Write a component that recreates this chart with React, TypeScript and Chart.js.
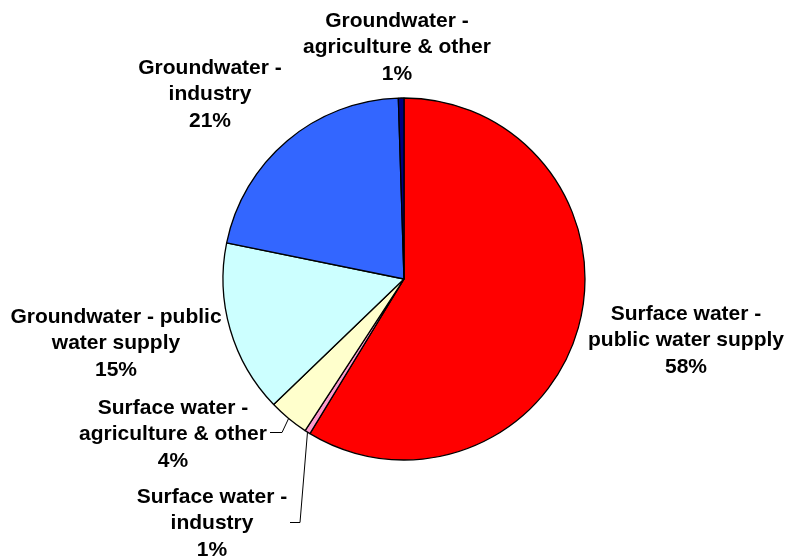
import React, { useEffect, useRef } from "react";
import { Chart, registerables } from "chart.js";

Chart.register(...registerables);

const categories = [
  "Surface water - public water supply",
  "Surface water - industry",
  "Surface water - agriculture & other",
  "Groundwater - public water supply",
  "Groundwater - industry",
  "Groundwater - agriculture & other",
];
const categoryLines = [
  ["Surface water -", "public water supply"],
  ["Surface water -", "industry"],
  ["Surface water -", "agriculture & other"],
  ["Groundwater - public", "water supply"],
  ["Groundwater -", "industry"],
  ["Groundwater -", "agriculture & other"],
];
const shares = [58.7, 0.5, 3.6, 15.4, 21.3, 0.5];
const percentLabels = ["58%", "1%", "4%", "15%", "21%", "1%"];
const sliceColors = ["#FF0000", "#FF99CC", "#FFFFCC", "#CCFFFF", "#3366FF", "#000080"];

// label layout: first-line center offset from pie center
const labelOffsets = [
  [282, 34],
  [-192, 217],
  [-231, 128],
  [-288, 37],
  [-194, -212],
  [-7, -259],
];
// leader lines: [elbow, end] offsets from pie center, or null
const leaders: (number[][] | null)[] = [
  null,
  [[-104, 243], [-114, 243]],
  [[-122, 153], [-134, 153]],
  null,
  null,
  null,
];

const labelPlugin = {
  id: "pieLabels",
  afterDraw(chart: any) {
    const ctx = chart.ctx;
    const meta = chart.getDatasetMeta(0);
    ctx.save();
    ctx.font = "bold 21px 'Liberation Sans', Arial, sans-serif";
    ctx.fillStyle = "#000";
    ctx.textAlign = "center";
    ctx.textBaseline = "middle";
    meta.data.forEach((arc: any, i: number) => {
      const cx = arc.x;
      const cy = arc.y;
      const lines = [...categoryLines[i], percentLabels[i]];
      const [ox, oy] = labelOffsets[i];
      lines.forEach((t, k) => ctx.fillText(t, cx + ox, cy + oy + 1 + k * 26.5));
      const ld = leaders[i];
      if (ld) {
        const mid = (arc.startAngle + arc.endAngle) / 2;
        const r = arc.outerRadius;
        ctx.beginPath();
        ctx.strokeStyle = "#000";
        ctx.lineWidth = 1;
        ctx.moveTo(cx + r * Math.cos(mid), cy + r * Math.sin(mid));
        ctx.lineTo(cx + ld[0][0], cy + ld[0][1] + 0.5);
        ctx.lineTo(cx + ld[1][0], cy + ld[1][1] + 0.5);
        ctx.stroke();
      }
    });
    ctx.restore();
  },
};

export default function App() {
  const ref = useRef<HTMLCanvasElement>(null);
  useEffect(() => {
    if (!ref.current) return;
    const chart = new Chart(ref.current, {
      type: "pie",
      data: {
        labels: categories,
        datasets: [
          {
            data: shares,
            backgroundColor: sliceColors,
            borderColor: "#000",
            borderWidth: 1.3,
          },
        ],
      },
      options: {
        responsive: false,
        animation: false,
        radius: 181,
        layout: { padding: { left: 23, top: 1, right: 0, bottom: 0 } },
        plugins: {
          legend: { display: false },
          tooltip: { enabled: false },
        },
      } as any,
      plugins: [labelPlugin],
    });
    return () => chart.destroy();
  }, []);
  return (
    <div style={{ position: "absolute", left: 0, top: 0, width: 785, height: 557, background: "#fff" }}>
      <canvas ref={ref} width={785} height={557} />
    </div>
  );
}
